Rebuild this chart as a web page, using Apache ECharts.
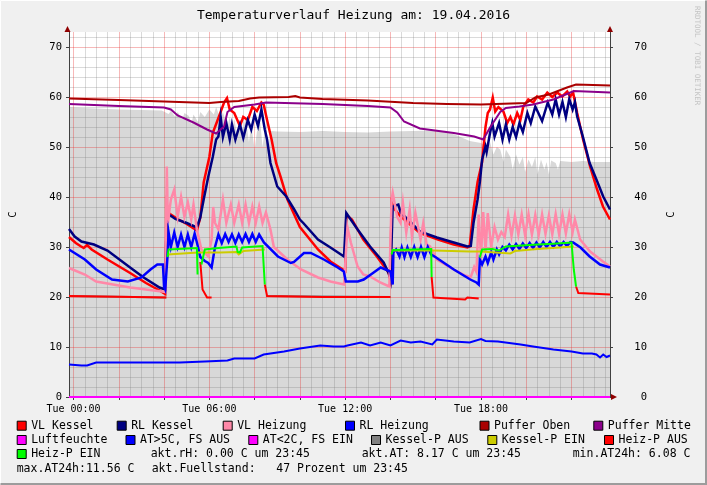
<!DOCTYPE html>
<html><head><meta charset="utf-8">
<script src="https://cdn.jsdelivr.net/npm/echarts@6/dist/echarts.min.js"></script>
<style>html,body{margin:0;padding:0;background:#f0f0f0}#c{width:707px;height:485px}</style>
</head><body><div id="c"></div>
<script>
// ---------- axis ranges & ticks ----------
const X_MIN = -0.2, X_MAX = 23.7;
const Y_MIN = 0, Y_MAX = 73;
const X_LABEL_POS = [0, 6, 12, 18];
const X_LABELS = ['Tue 00:00', 'Tue 06:00', 'Tue 12:00', 'Tue 18:00'];
const X_MAJOR = [0, 2, 4, 6, 8, 10, 12, 14, 16, 18, 20, 22];
const X_MINOR = [0.5, 1, 1.5, 2.5, 3, 3.5, 4.5, 5, 5.5, 6.5, 7, 7.5, 8.5, 9, 9.5, 10.5, 11, 11.5, 12.5, 13, 13.5, 14.5, 15, 15.5, 16.5, 17, 17.5, 18.5, 19, 19.5, 20.5, 21, 21.5, 22.5, 23, 23.5];
const Y_TICKS = [0, 10, 20, 30, 40, 50, 60, 70];
const Y_MINOR = [2, 4, 6, 8, 12, 14, 16, 18, 22, 24, 26, 28, 32, 34, 36, 38, 42, 44, 46, 48, 52, 54, 56, 58, 62, 64, 66, 68, 72];

// ---------- data: [hour, value]; null = gap ----------
const FUELLSTAND = [[-0.2,57.9],[1,57.7],[2,57.5],[3,57.4],[3.9,57.3],[4.2,56.6],[4.3,57.2],[4.5,56],[4.6,57],[4.8,55.5],[4.9,56.8],[5.1,56.2],[5.2,54.5],[5.3,56.5],[5.5,55],[5.6,57],[5.8,56],[6.0,57.5],[6.2,56.5],[6.3,58],[6.5,55.5],[6.6,57],[6.8,54],[6.9,56],[7.0,53.5],[7.1,55.5],[7.25,52],[7.35,55],[7.5,53.5],[7.6,56],[7.75,51],[7.85,54.5],[8.0,49.5],[8.1,53],[8.25,55],[8.35,50],[8.45,53.5],[8.6,49.5],[8.7,53.2],[9,53.1],[10,53],[11,53.2],[12,53],[13,52.9],[14,53.1],[15,53.2],[16,53.3],[16.5,53],[17,52.2],[17.5,51.2],[18.0,50.8],[18.3,49.8],[18.4,51],[18.55,48.5],[18.7,50],[18.85,49.5],[19.0,47],[19.1,49.5],[19.3,48],[19.4,45.5],[19.55,48.5],[19.7,46.5],[19.85,48],[19.95,45],[20.1,47.5],[20.25,46],[20.4,48],[20.5,44.5],[20.65,47.5],[20.8,45.5],[20.9,47],[21.0,44.5],[21.1,47.3],[21.3,46.8],[21.4,45.5],[21.5,47.2],[22,47],[22.5,47.2],[23,47],[23.7,47]];

const VL_KESSEL = [[-0.2,32.0],[0.1,30.8],[0.3,30.2],[0.45,29.8],[0.6,30.4],[0.8,29.5],[1.5,27.5],[2.5,24.8],[3.2,22.8],[3.8,21.3],[4.05,20.6],[4.12,38.4],[4.2,36.8],[4.6,35.6],[5.0,34.6],[5.45,33.3],[5.6,35.9],[5.75,42.9],[6.0,48],[6.15,52.8],[6.45,56.4],[6.65,58.9],[6.78,59.8],[6.9,57.5],[7.1,56.8],[7.35,54.2],[7.5,56],[7.7,55.4],[7.9,58],[8.1,57.2],[8.3,58.9],[8.4,58.5],[8.55,55.4],[8.75,51.5],[8.95,46.8],[9.15,44],[9.45,39.5],[10.0,34],[10.8,29.5],[11.35,27.1],[11.9,25.5],[12.0,25.2],[12.05,36.4],[12.3,35.5],[12.8,31.5],[13.4,28.1],[13.9,25],[14.0,23.5],[14.05,38.9],[14.2,37.5],[14.45,36.1],[15.3,32.8],[16.1,31.5],[16.8,30.5],[17.4,29.9],[17.5,30.1],[17.67,37.5],[17.85,43],[18.05,47],[18.2,54],[18.3,56.8],[18.4,57.5],[18.52,59.9],[18.63,57.1],[18.77,58],[18.99,57.1],[19.16,54.8],[19.3,56],[19.43,54.5],[19.6,56.8],[19.74,55.4],[19.87,58.1],[20.09,59.5],[20.31,58.9],[20.48,60.1],[20.7,59.5],[20.93,60.9],[21.15,60],[21.37,60.9],[21.59,60.1],[21.81,61.1],[21.94,60.1],[22.07,60.9],[22.25,56.8],[22.51,51.5],[22.82,46.1],[23.13,41.5],[23.39,38.1],[23.7,35.5]];

const RL_KESSEL = [[-0.2,33.6],[0.05,32.1],[0.35,31.1],[0.9,30.5],[1.5,29.3],[2.5,25.9],[3.1,23.9],[3.8,21.9],[4.05,21.5],[4.12,36.8],[4.5,35.6],[5.0,34.8],[5.45,33.9],[5.6,35.9],[5.75,39.5],[5.95,44],[6.15,48],[6.3,51.5],[6.4,52.1],[6.5,56],[6.6,52],[6.75,54.8],[6.9,51.5],[7.0,54.5],[7.15,51.5],[7.35,54.5],[7.5,51.8],[7.7,55.4],[7.85,53.5],[8.0,56.5],[8.15,54.2],[8.3,57.5],[8.45,53.5],[8.55,51.5],[8.7,46.8],[9.0,42.1],[9.4,40.1],[9.75,37.5],[10.0,35.5],[10.15,34.8],[10.8,31.5],[11.35,29.9],[11.95,28.1],[12.05,36.8],[12.55,33.5],[13.1,30.1],[13.7,26.9],[13.95,24.5],[14.0,23.5],[14.1,38.1],[14.35,38.5],[14.45,36.9],[15.3,33.1],[16.05,31.9],[16.8,30.9],[17.4,30.1],[17.55,30.2],[17.67,34.8],[17.85,39.5],[17.95,43.0],[18.05,47.5],[18.2,50.1],[18.25,49],[18.4,52.8],[18.5,54.8],[18.6,52.1],[18.8,54.8],[18.95,51.5],[19.1,54.5],[19.25,51.5],[19.4,54],[19.55,52],[19.7,54.8],[19.85,53],[20.05,56.8],[20.2,54.8],[20.4,58.1],[20.7,55.2],[20.95,58.9],[21.15,56.5],[21.3,59.5],[21.45,56.5],[21.6,59],[21.75,56],[21.9,59.6],[22.05,57.5],[22.15,59],[22.25,56.1],[22.5,52.1],[22.8,46.8],[23.1,43.5],[23.4,40.1],[23.7,37.5]];

const VL_HEIZUNG = [[-0.2,25.8],[0.5,24.5],[1.0,23.1],[2.5,21.9],[3.9,21.1],[4.05,21.0],[4.12,46.1],[4.17,34.8],[4.3,39.5],[4.45,41.5],[4.6,36.1],[4.75,40],[4.9,36],[5.05,38.9],[5.2,35.5],[5.3,38.5],[5.45,33.5],[5.65,29.5],[5.95,28.1],[6.1,31.5],[6.17,38],[6.25,34.8],[6.4,33.5],[6.6,39.5],[6.75,34.8],[6.95,38.5],[7.1,34.8],[7.3,38.5],[7.45,34.8],[7.6,38.5],[7.75,34.8],[7.9,38.1],[8.05,34.8],[8.2,38.1],[8.35,34.8],[8.5,36.9],[8.7,33.5],[8.85,30],[9.45,27.5],[10.05,25.5],[10.8,23.9],[11.35,23.1],[11.95,22.5],[12.1,34],[12.25,30.9],[12.55,26.1],[12.8,24.5],[13.1,24.1],[13.55,22.9],[13.95,22.1],[14.05,39.5],[14.1,40.9],[14.3,36],[14.45,34.8],[14.55,38.9],[14.7,32.9],[14.85,37.5],[14.95,32.1],[15.1,36.9],[15.33,31.5],[15.45,34.8],[15.6,30.5],[15.75,30.1],[16.05,27.5],[16.8,25.5],[17.3,24.3],[17.55,24],[17.7,26],[17.8,25],[17.9,36.5],[18.0,28],[18.1,37],[18.2,29],[18.3,36.8],[18.45,30],[18.6,34],[18.75,31.5],[18.9,33],[19.05,32],[19.2,36.5],[19.35,32.2],[19.5,36.3],[19.65,32.5],[19.8,36.5],[19.95,32.3],[20.1,36.6],[20.25,32.5],[20.4,36.4],[20.55,32.4],[20.7,36.5],[20.85,32.6],[21.0,36.3],[21.15,32.5],[21.3,36.6],[21.45,32.6],[21.6,36.5],[21.75,32.7],[21.9,36.6],[22.05,33],[22.15,35.5],[22.38,31.5],[22.82,29.1],[23.39,27.1],[23.7,26.1]];

const RL_HEIZUNG = [[-0.2,29.5],[0.5,27.5],[1.0,25.5],[1.7,23.5],[2.4,23.1],[3.0,23.9],[3.4,25.5],[3.7,26.5],[3.95,26.5],[4.0,22],[4.05,21.5],[4.15,28],[4.2,32.9],[4.3,30],[4.45,32.9],[4.6,30],[4.75,32.5],[4.9,30],[5.05,32.5],[5.2,30],[5.35,32.7],[5.5,30],[5.6,28],[5.8,27.2],[5.95,26.8],[6.1,25.9],[6.25,30],[6.4,32.5],[6.55,30.8],[6.7,32.6],[6.85,31],[7.0,32.5],[7.15,30.8],[7.3,32.5],[7.45,31],[7.6,32.6],[7.75,31],[7.9,32.6],[8.05,31],[8.2,32.5],[8.41,30.9],[9.03,28.1],[9.6,26.8],[9.74,27],[10.18,28.8],[10.48,28.8],[11.06,27.5],[11.67,25.9],[11.94,25.1],[12.03,23.1],[12.56,23.1],[12.82,23.5],[13.26,24.9],[13.57,25.9],[14.0,25.1],[14.1,22.5],[14.13,28.9],[14.25,29.5],[14.4,28.1],[14.5,29.9],[14.62,28],[14.75,29.9],[14.9,28],[15.05,30],[15.2,28],[15.35,30],[15.5,28],[15.65,30],[15.8,28.5],[15.95,28.1],[16.8,25.5],[17.53,23.5],[17.8,22.9],[17.9,22.5],[17.95,27.5],[18.05,26.5],[18.2,28.1],[18.3,26.8],[18.45,28.9],[18.55,27.5],[18.7,29.5],[18.8,28.5],[18.95,30],[19.1,29.3],[19.25,30.5],[19.4,29.5],[19.55,30.6],[19.7,29.6],[19.85,30.7],[20.0,29.8],[20.15,30.8],[20.3,29.8],[20.45,30.9],[20.6,29.9],[20.75,31],[20.9,30],[21.05,31],[21.2,30],[21.35,31],[21.5,30.1],[21.65,31],[21.8,30.2],[21.95,31],[22.07,30.9],[22.4,29.9],[22.8,28.1],[23.26,26.5],[23.7,25.9]];

const PUFFER_OBEN = [[-0.2,59.7],[2,59.4],[4,59.1],[6,58.8],[6.5,59.0],[7.3,59.2],[7.8,59.7],[8.2,59.9],[9.5,60],[9.8,60.2],[10,59.9],[11,59.6],[13,59.3],[15,58.8],[16.5,58.6],[18,58.5],[20.0,58.8],[20.4,59.9],[21,60.5],[21.8,61.9],[22.2,62.5],[23.7,62.3]];

const PUFFER_MITTE = [[-0.2,58.6],[2,58.2],[4,57.9],[4.3,57.5],[4.6,56.3],[5.3,54.9],[5.9,53.5],[6.3,52.7],[6.65,54.1],[6.8,57],[7.1,58],[8,58.5],[8.5,58.9],[11,58.6],[13,58.2],[14,57.9],[14.3,56.9],[14.6,55.1],[15.3,53.7],[16.8,52.8],[17.7,52.1],[18.1,51.5],[18.4,53.9],[18.85,57],[19.1,57.8],[19.7,58.1],[20.3,58.5],[21.2,59.5],[21.9,60.8],[22.1,61.2],[23.7,60.9]];

const LUFTFEUCHTE = [[-0.2,0],[23.7,0]];

const AT = [[-0.2,6.5],[0.35,6.3],[0.6,6.3],[1.0,6.9],[1.5,6.9],[3.1,6.9],[4.7,6.9],[5.8,7.1],[6.8,7.3],[7.1,7.7],[8.0,7.7],[8.4,8.5],[9.3,9.1],[10.0,9.7],[10.9,10.3],[11.5,10.1],[11.95,10.1],[12.1,10.3],[12.7,10.9],[13.1,10.3],[13.57,10.9],[14.0,10.3],[14.45,11.3],[14.9,10.9],[15.33,11.1],[15.85,10.5],[16.05,11.5],[16.8,11.1],[17.5,10.9],[18.0,11.6],[18.2,11.2],[18.75,11.1],[19.75,10.5],[20.3,10.1],[21.2,9.5],[22.0,9.1],[22.5,8.7],[22.9,8.7],[23.1,8.5],[23.26,7.9],[23.4,8.5],[23.55,8.0],[23.7,8.3]];

const AT_KALT = [];

const KESSELP_AUS = [[-0.2,20.2],[4.1,19.9],null,[8.5,20.2],[14.0,20]];
const KESSELP_EIN = [[4.15,28.5],[4.2,28.9],[5.5,28.9],[6.5,28.9],[7.2,29],[7.3,28.5],[7.5,29.2],[8.45,29.5],null,[14.05,29.3],[15.9,29.3],[17.5,29.1],[18,29.1],[19.3,28.7],[19.5,29.2],[20.5,29.6],[22.1,30.1]];
const HEIZP_AUS = [[-0.2,20.2],[4.1,19.9],null,[5.6,27],[5.7,21.5],[5.9,19.9],[6.1,19.9],null,[8.45,22.5],[8.55,20.2],[11,20],[14.0,20],null,[15.82,24],[15.9,19.9],[16.2,19.8],[17.3,19.5],[17.4,19.9],[17.9,19.7],null,[22.2,22.1],[22.3,20.8],[23.7,20.5]];
const HEIZP_EIN = [[4.15,28],[4.2,29.5],[5.45,29.8],[5.48,24.5],null,[5.65,26.5],[5.8,29.5],[6.4,29.8],[7.2,30.1],[7.25,29],[7.35,28.9],[7.45,29.9],[8.35,30.2],[8.42,30.2],[8.45,22.5],null,[14.05,28.5],[14.1,29.4],[15.8,29.6],[15.82,24],null,[17.95,27.9],[18.05,29.5],[18.5,29.6],[18.8,29.3],[19.1,30.1],[20.5,30.5],[21.0,30.6],[22.0,30.9],[22.07,30.9],[22.1,25.5],[22.2,22.1]];

// ---------- texts ----------
const TITLE = 'Temperaturverlauf Heizung am: 19.04.2016';
const Y_NAME = 'C';
const INFO_TEXTS = [
  ['akt.rH: 0.00 C um 23:45', 150.7, 454.3],
  ['akt.AT: 8.17 C um 23:45', 361.7, 454.3],
  ['min.AT24h: 6.08 C', 572.7, 454.3],
  ['max.AT24h:11.56 C', 16.7, 468.8],
  ['akt.Fuellstand:   47 Prozent um 23:45', 151.7, 468.8]
];

const MONO = "'DejaVu Sans Mono', monospace";

function pts(arr) {
  const out = [];
  for (let i = 0; i < arr.length; i++) {
    const p = arr[i];
    if (p === null) out.push([arr[i - 1][0], '-']);
    else out.push(p);
  }
  return out;
}
function line(name, data, color, width, z) {
  return {
    name, type: 'line', data: pts(data), color,
    showSymbol: false, symbol: 'none', connectNulls: false,
    lineStyle: { width, color, cap: 'butt', join: 'miter' },
    itemStyle: { color }, z: z || 4, silent: true, animation: false,
    xAxisIndex: 0, yAxisIndex: 0
  };
}

const series = [
  {
    name: 'Fuellstand', type: 'line', data: pts(FUELLSTAND), showSymbol: false, symbol: 'none',
    lineStyle: { width: 0, opacity: 0 }, areaStyle: { color: '#d8d8d8', opacity: 1 },
    z: 2, silent: true, animation: false, xAxisIndex: 0, yAxisIndex: 0, color: '#d8d8d8'
  },
  line('Kessel-P AUS', KESSELP_AUS, '#808080', 2),
  line('VL Kessel', VL_KESSEL, '#ff0000', 2.5),
  line('RL Kessel', RL_KESSEL, '#000080', 2.5),
  line('VL Heizung', VL_HEIZUNG, '#ff88a8', 2.5),
  line('RL Heizung', RL_HEIZUNG, '#0000ff', 2.5),
  line('Puffer Oben', PUFFER_OBEN, '#aa0000', 2),
  line('Puffer Mitte', PUFFER_MITTE, '#8b008b', 2),
  line('Luftfeuchte', LUFTFEUCHTE, '#ff00ff', 2),
  line('AT>5C, FS AUS', AT, '#0000ff', 2),
  line('AT<2C, FS EIN', AT_KALT, '#ff00ff', 2),
  line('Kessel-P EIN', KESSELP_EIN, '#cccc00', 2),
  line('Heiz-P AUS', HEIZP_AUS, '#ff0000', 2),
  line('Heiz-P EIN', HEIZP_EIN, '#00ff00', 2)
];

const LEGEND_ITEMS = [
  ['VL Kessel', 16.7, 426.2], ['RL Kessel', 116.7, 426.2], ['VL Heizung', 222.7, 426.2],
  ['RL Heizung', 345, 426.2], ['Puffer Oben', 479.5, 426.2], ['Puffer Mitte', 593.3, 426.2],
  ['Luftfeuchte', 16.7, 440.5], ['AT>5C, FS AUS', 125.5, 440.5], ['AT<2C, FS EIN', 248.3, 440.5],
  ['Kessel-P AUS', 371, 440.5], ['Kessel-P EIN', 487.3, 440.5], ['Heiz-P AUS', 604, 440.5],
  ['Heiz-P EIN', 16.7, 454.5]
];
const legends = LEGEND_ITEMS.map(([name, x, cy]) => ({
  data: [name], left: x, top: cy - 6.5, padding: 0, orient: 'horizontal',
  icon: 'rect', itemWidth: 9, itemHeight: 9, itemGap: 0,
  itemStyle: { borderColor: '#000', borderWidth: 1 },
  textStyle: { fontFamily: MONO, fontSize: 11.5, color: '#000', padding: 0 },
  selectedMode: false
}));

const gridLeft = 67.5, gridTop = 32, gridW = 542.5, gridH = 365;
const axisColor = '#404040';
const arrowColor = '#900000';

const graphics = [
  { type: 'polyline', shape: { points: [[0.5, 484], [0.5, 0.5], [706, 0.5]] }, style: { stroke: '#ffffff', lineWidth: 1, fill: null }, silent: true },
  { type: 'polyline', shape: { points: [[706, 0.5], [706, 484], [0.5, 484]] }, style: { stroke: '#9c9c9c', lineWidth: 2, fill: null }, silent: true },
  { type: 'polygon', shape: { points: [[gridLeft - 3, gridTop], [gridLeft + 3, gridTop], [gridLeft, gridTop - 6]] }, style: { fill: arrowColor }, z: 10 },
  { type: 'polygon', shape: { points: [[gridLeft + gridW - 3, gridTop], [gridLeft + gridW + 3, gridTop], [gridLeft + gridW, gridTop - 6]] }, style: { fill: arrowColor }, z: 10 },
  { type: 'polygon', shape: { points: [[gridLeft + gridW + 1, gridTop + gridH - 3], [gridLeft + gridW + 1, gridTop + gridH + 3], [gridLeft + gridW + 7, gridTop + gridH]] }, style: { fill: arrowColor }, z: 10 },
  { type: 'text', x: 697, y: 6, rotation: -Math.PI / 2, style: { text: 'RRDTOOL / TOBI OETIKER', fontFamily: MONO, fontSize: 7.5, fill: '#c4c4c4', align: 'left', verticalAlign: 'middle' }, silent: true }
].concat(INFO_TEXTS.map(([t, x, y]) => ({
  type: 'text', x, y, style: { text: t, fontFamily: MONO, fontSize: 11.5, fill: '#000', align: 'left', verticalAlign: 'middle' }, silent: true
})));

const option = {
  animation: false,
  backgroundColor: '#f0f0f0',
  title: { text: TITLE, left: 'center', top: 9, padding: 0, textStyle: { fontFamily: MONO, fontSize: 13, fontWeight: 'normal', color: '#000' } },
  grid: { left: gridLeft, top: gridTop, width: gridW, height: gridH, show: true, backgroundColor: '#ffffff', borderWidth: 0, containLabel: false },
  legend: legends,
  graphic: graphics,
  xAxis: [
    {
      type: 'value', min: X_MIN, max: X_MAX, position: 'bottom', z: 3,
      axisLine: { show: true, onZero: false, lineStyle: { color: axisColor, width: 1 } },
      axisTick: { show: true, customValues: X_MAJOR, length: 3, lineStyle: { color: axisColor } },
      axisLabel: {
        customValues: X_LABEL_POS, margin: 7, fontFamily: MONO, fontSize: 10, color: '#000',
        formatter: v => X_LABELS[X_LABEL_POS.indexOf(v)] || ''
      },
      splitLine: { show: true, lineStyle: { color: 'rgba(230,40,40,0.33)', width: 1 } }
    },
    {
      type: 'value', min: X_MIN, max: X_MAX, position: 'top', z: 3,
      axisLine: { show: false }, axisLabel: { show: false },
      axisTick: { show: false, customValues: X_MINOR },
      splitLine: { show: true, lineStyle: { color: 'rgba(120,120,120,0.27)', width: 1 } }
    }
  ],
  yAxis: [
    {
      type: 'value', min: Y_MIN, max: Y_MAX, position: 'left', z: 3,
      name: Y_NAME, nameLocation: 'middle', nameRotate: 90, nameGap: 50,
      nameTextStyle: { fontFamily: MONO, fontSize: 10.5, color: '#000' },
      axisLine: { show: true, onZero: false, lineStyle: { color: axisColor, width: 1 } },
      axisTick: { show: true, customValues: Y_TICKS, length: 3, lineStyle: { color: axisColor } },
      axisLabel: { customValues: Y_TICKS, margin: 7, fontFamily: MONO, fontSize: 10.5, color: '#000' },
      splitLine: { show: true, lineStyle: { color: 'rgba(230,40,40,0.33)', width: 1 } }
    },
    {
      type: 'value', min: Y_MIN, max: Y_MAX, position: 'right', z: 3,
      name: Y_NAME, nameLocation: 'middle', nameRotate: 90, nameGap: 56,
      nameTextStyle: { fontFamily: MONO, fontSize: 10.5, color: '#000' },
      axisLine: { show: true, onZero: false, lineStyle: { color: axisColor, width: 1 } },
      axisTick: { show: true, customValues: Y_TICKS, length: 3, lineStyle: { color: axisColor } },
      axisLabel: { customValues: Y_TICKS, margin: 37, align: 'right', fontFamily: MONO, fontSize: 10.5, color: '#000' },
      splitLine: { show: false }
    },
    {
      type: 'value', min: Y_MIN, max: Y_MAX, position: 'left', z: 3, offset: 0,
      axisLine: { show: false }, axisLabel: { show: false },
      axisTick: { show: false, customValues: Y_MINOR },
      splitLine: { show: true, lineStyle: { color: 'rgba(120,120,120,0.27)', width: 1 } }
    }
  ],
  series
};

const chart = echarts.init(document.getElementById('c'), null, { renderer: 'canvas' });
chart.setOption(option);
</script></body></html>
